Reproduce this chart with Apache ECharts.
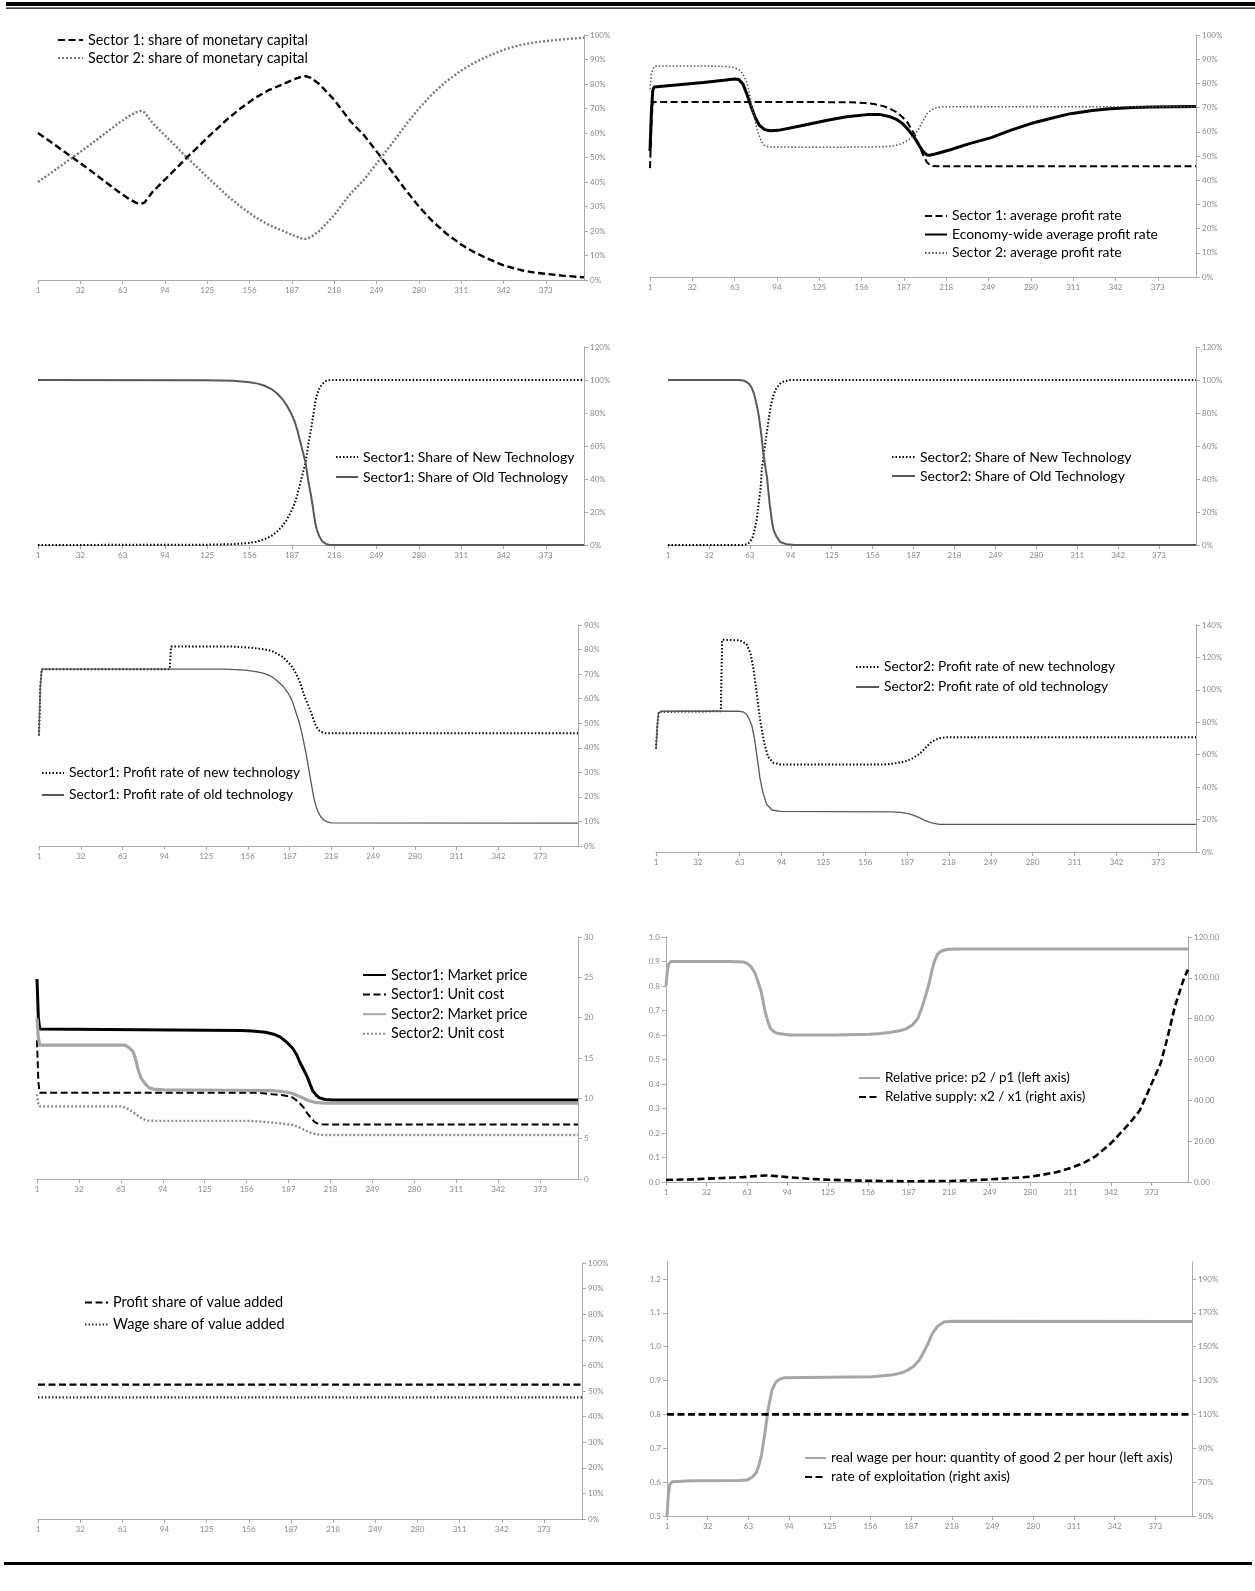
<!DOCTYPE html>
<html><head><meta charset="utf-8">
<script src="https://cdn.jsdelivr.net/npm/echarts@6/dist/echarts.min.js"></script>
<style>html,body{margin:0;padding:0;background:#fff}#c{width:1255px;height:1591px}</style>
</head><body><div id="c"></div>
<script>
// ---------- tick labels ----------
const periodTicks = [1,32,63,94,125,156,187,218,249,280,311,342,373];
const wageLeftTicks = [0.5,0.6,0.7,0.8,0.9,1.0,1.1,1.2];
const exploitRightTicks = [50,70,90,110,130,150,170,190];

// ---------- panel 1: shares of monetary capital (%) ----------
const s1MoneyShare = [[1,60],[12,55.7],[25,50.5],[38,45.3],[50,40.2],[60,36],[68,33],[73,31.5],[76,31],[79,31.6],[85,36],[94,41],[100,44.3],[110,50],[115,52.6],[125,58],[140,65.8],[150,70.3],[160,74.3],[170,77.5],[180,79.8],[188,81.8],[194,83],[197,83.2],[201,82.5],[207,80],[213,76.5],[218,73.5],[230,64.7],[240,59],[249,52.5],[260,44.5],[270,37],[280,30],[290,24],[300,19],[311,14.5],[320,11.5],[330,8.8],[342,6],[355,4],[365,3],[373,2.5],[385,1.8],[401,1.1]];
const s2MoneyShare = [[1,40],[12,44.3],[25,49.5],[38,54.7],[50,59.8],[60,64],[68,67],[73,68.5],[76,69],[79,68.4],[85,64],[94,59],[100,55.7],[110,50],[115,47.4],[125,42],[140,34.2],[150,29.7],[160,25.7],[170,22.5],[180,20.2],[188,18.2],[194,17],[197,16.8],[201,17.5],[207,20],[213,23.5],[218,26.5],[230,35.3],[240,41],[249,47.5],[260,55.5],[270,63],[280,70],[290,76],[300,81],[311,85.5],[320,88.5],[330,91.2],[342,94],[355,96],[365,97],[373,97.5],[385,98.2],[401,98.9]];

// ---------- panel 2: average profit rates (%) ----------
const s1AvgProfit = [[1,45],[2,62],[3,72.3],[60,72.3],[120,72.3],[148,72.2],[158,71.9],[165,71.5],[172,70.6],[177,69.5],[182,68],[186,66],[190,63.5],[195,58.7],[198,54.5],[201,50.5],[204,47.3],[207,45.9],[212,45.8],[401,45.8]];
const econAvgProfit = [[1,52],[2,68],[3,77],[4,78.5],[20,79.3],[40,80.4],[55,81.3],[63,81.8],[66,81.6],[69,79.8],[72,75.5],[75,70.5],[78,66],[81,62.8],[85,60.9],[89,60.4],[95,60.6],[110,62.3],[131,64.8],[145,66.2],[160,67.1],[169,67.2],[177,66.2],[182,65],[186,63.4],[190,61],[195,57.3],[198,54.5],[201,51.9],[204,50.4],[206,50.3],[210,50.8],[221,52.6],[235,55.1],[251,57.6],[265,60.6],[280,63.4],[295,65.6],[309,67.5],[325,68.8],[338,69.5],[355,70],[368,70.2],[385,70.4],[401,70.5]];
const s2AvgProfit = [[1,77.6],[2,84],[4,87],[6,87.2],[40,87.2],[57,87],[62,86.6],[66,85.8],[69,84],[72,80.4],[74,75.5],[76,69.5],[78,64.5],[80,60],[82,57],[84,54.6],[87,53.9],[90,53.7],[130,53.6],[172,53.8],[178,54.1],[183,54.6],[188,55.8],[192,57.3],[195,59],[198,61.4],[201,64.5],[204,67.5],[207,69],[210,69.8],[215,70.3],[220,70.4],[401,70.4]];

// ---------- panel 3: sector 1 technology shares (%) ----------
const s1NewTech = [[1,0],[124,0.2],[144,0.5],[156,1.3],[162,2.2],[167,3.5],[172,5.5],[176,8],[180,11.5],[183,15],[186,19.5],[189,25],[191,30.5],[193,37],[195,43.5],[197,50],[199,61],[201,70],[202,75],[204,86],[205,90],[207,94.6],[209,97.5],[210,98.6],[212,99.4],[214,99.8],[218,100],[401,100]];
const s1OldTech = [[1,100],[124,99.8],[144,99.5],[156,98.7],[162,97.8],[167,96.5],[172,94.5],[176,92],[180,88.5],[183,85],[186,80.5],[189,75],[191,69.5],[193,63],[195,56.5],[197,50],[199,39],[201,30],[202,25],[204,14],[205,10],[207,5.4],[209,2.5],[210,1.4],[212,0.6],[214,0.2],[218,0],[401,0]];

// ---------- panel 4: sector 2 technology shares (%) ----------
const s2NewTech = [[1,0],[58,0],[61,0.5],[63,1.8],[65,4.5],[66,7.4],[68,14],[69,21],[71,33],[72,45],[74,58],[76,69],[78,80],[79,85],[81,91],[83,95],[86,97.8],[88,99],[94,100],[401,100]];
const s2OldTech = [[1,100],[55,100],[59,99.5],[62,98],[64,96],[66,92],[67,89],[69,82],[70,77],[72,65],[73,57],[75,46],[76,41],[78,25],[80,13],[81,9],[83,5.4],[86,1.8],[91,0.4],[97,0],[401,0]];

// ---------- panel 5: sector 1 profit rates by technology (%) ----------
const s1ProfitNew = [[1,45],[2,65],[3,72],[98,72],[99,81.2],[145,81.2],[159,80.7],[168,80.1],[174,79.4],[182,77],[188,73.6],[191,71],[194,67.6],[196,64.5],[198,61],[201,57],[203,54.2],[206,49.5],[208,47.6],[210,46.5],[214,45.9],[401,45.9]];
const s1ProfitOld = [[1,45.1],[2,65],[3,72],[139,72],[154,71.6],[162,71],[168,70.3],[173,69.2],[177,67.6],[182,65.2],[186,62.2],[189,59],[191,55.6],[194,50.5],[196,46.2],[199,38.2],[202,28.8],[205,19.4],[207,15.5],[208,14],[210,12],[212,10.7],[215,9.8],[218,9.4],[401,9.3]];

// ---------- panel 6: sector 2 profit rates by technology (%) ----------
const s2ProfitNew = [[1,63.7],[2,78],[3,86.5],[49,86.8],[50,130.9],[63,130.5],[68,128.4],[71,122.4],[73,114],[75,102],[78,82],[81,67.8],[84,58.7],[88,55],[93,54],[170,54],[176,54.4],[182,55.2],[186,56],[190,57.3],[195,59.8],[199,62.7],[202,65.5],[205,67.8],[208,69.3],[211,70.2],[217,70.8],[401,70.8]];
const s2ProfitOld = [[1,63.7],[2,79],[3,86],[5,86.8],[63,86.8],[66,86.2],[68,85],[70,82],[72,78],[74,70],[75,63.7],[77,52],[78,45.5],[80,37.4],[83,29.3],[87,25.9],[93,25.1],[176,24.8],[182,24.4],[188,23.7],[192,22.6],[196,21.2],[200,19.5],[205,18],[211,17],[401,17]];

// ---------- panel 7: prices and unit costs ----------
const s1MarketPrice = [[1,24.8],[2,20],[3,18.6],[4,18.4],[152,18.4],[160,18.35],[170,18.2],[176,17.95],[181,17.6],[186,16.9],[190,16.2],[193,15.4],[195,14.6],[198,13.6],[201,12.6],[203,11.7],[205,10.9],[208,10.3],[210,10.05],[214,9.85],[220,9.8],[401,9.8]];
const s1UnitCost = [[1,17.2],[2,12],[3,10.7],[164,10.7],[170,10.6],[175,10.5],[182,10.4],[187,10.25],[190,10.1],[194,9.6],[198,8.9],[201,8.1],[204,7.5],[206,7.1],[208,6.9],[212,6.78],[215,6.75],[401,6.75]];
const s2MarketPrice = [[1,19.9],[2,17.5],[3,16.6],[66,16.6],[69,16.3],[72,15.8],[74,14.8],[76,13.4],[78,12.5],[81,11.8],[84,11.3],[87,11.15],[95,11.05],[140,11.0],[175,10.95],[182,10.85],[186,10.75],[190,10.6],[194,10.3],[198,10.0],[202,9.7],[207,9.5],[213,9.4],[401,9.4]];
const s2UnitCost = [[1,10.5],[2,9.3],[3,9.0],[63,9.0],[67,8.8],[70,8.5],[72,8.3],[76,7.8],[79,7.45],[83,7.25],[89,7.2],[158,7.2],[168,7.1],[175,7.0],[183,6.85],[190,6.7],[195,6.4],[199,6.05],[203,5.75],[207,5.55],[211,5.47],[220,5.45],[401,5.45]];

// ---------- panel 8: relative price (left) and relative supply (right) ----------
const relativePrice = [[1,0.80],[2,0.86],[3,0.89],[5,0.90],[50,0.90],[60,0.898],[63,0.893],[66,0.88],[69,0.855],[72,0.81],[74,0.775],[77,0.695],[79,0.655],[81,0.627],[84,0.612],[87,0.606],[96,0.60],[130,0.60],[157,0.603],[165,0.606],[172,0.61],[180,0.617],[185,0.625],[190,0.642],[194,0.668],[197,0.71],[200,0.761],[203,0.82],[205,0.869],[207,0.905],[209,0.929],[212,0.943],[217,0.95],[230,0.951],[401,0.951]];
const relativeSupply = [[1,1.0],[20,1.3],[40,1.8],[60,2.4],[70,2.9],[78,3.2],[86,2.9],[94,2.4],[110,1.6],[125,1.1],[156,0.6],[187,0.35],[218,0.5],[235,0.8],[249,1.3],[265,1.9],[280,2.6],[290,3.6],[300,4.8],[311,6.9],[320,9],[330,12.5],[342,19],[350,24.5],[356,28.6],[364,35],[373,48],[380,58],[385,70],[391,86],[395,94],[398,100],[401,104]];

// ---------- panel 9: functional income shares (%) ----------
const profitShare = [[1,52.5],[401,52.5]];
const wageShare = [[1,47.5],[401,47.5]];

// ---------- panel 10: real wage (left) and rate of exploitation (right, %) ----------
const realWage = [[1,0.5],[2,0.56],[3,0.592],[5,0.601],[20,0.604],[55,0.605],[62,0.606],[66,0.615],[69,0.628],[71,0.65],[73,0.68],[75,0.73],[76,0.757],[78,0.814],[81,0.872],[84,0.896],[87,0.904],[90,0.908],[157,0.911],[172,0.916],[180,0.923],[184,0.93],[189,0.942],[193,0.959],[196,0.98],[200,1.01],[203,1.038],[207,1.06],[212,1.073],[218,1.075],[401,1.074]];
const exploitationRate = [[1,110],[401,110]];

// ---------- styles ----------
const AX = '#ababab', LBL = '#8a8a8a', FONT = 'Lato, "Open Sans", sans-serif';
const DASH = [7,3.5], DOT = [2,2], DOTF = [1.5,2];
const pct = v => v + '%';

const panels = [
  {box:[38,35,546,245], y:[{pos:'right',min:0,max:100,interval:10,fmt:pct}],
   series:[['Sector 1: share of monetary capital',s1MoneyShare,'#000',2.4,DASH],
           ['Sector 2: share of monetary capital',s2MoneyShare,'#7a7a7a',2.4,DOT]],
   legend:[57,40,25,18,14.4]},
  {box:[650,35,546,242], y:[{pos:'right',min:0,max:100,interval:10,fmt:pct}],
   series:[['Sector 1: average profit rate',s1AvgProfit,'#000',2,DASH],
           ['Economy-wide average profit rate',econAvgProfit,'#000',3,'solid'],
           ['Sector 2: average profit rate',s2AvgProfit,'#555',1.5,DOTF]],
   legend:[924,216,22,18.5,13.9]},
  {box:[38,347,546,198], y:[{pos:'right',min:0,max:120,interval:20,fmt:pct}],
   series:[['Sector1: Share of New Technology',s1NewTech,'#000',2,DOTF],
           ['Sector1: Share of Old Technology',s1OldTech,'#595959',2,'solid']],
   legend:[335,457,22,20,14]},
  {box:[668,347,528,198], y:[{pos:'right',min:0,max:120,interval:20,fmt:pct}],
   series:[['Sector2: Share of New Technology',s2NewTech,'#000',2,DOTF],
           ['Sector2: Share of Old Technology',s2OldTech,'#595959',2,'solid']],
   legend:[891,457,23,19,14]},
  {box:[39,625,539,221], y:[{pos:'right',min:0,max:90,interval:10,fmt:pct}],
   series:[['Sector1: Profit rate of new technology',s1ProfitNew,'#000',2,DOTF],
           ['Sector1: Profit rate of old technology',s1ProfitOld,'#595959',1.3,'solid']],
   legend:[41,773,22,22,13.8]},
  {box:[656,625,540,227], y:[{pos:'right',min:0,max:140,interval:20,fmt:pct}],
   series:[['Sector2: Profit rate of new technology',s2ProfitNew,'#000',2,DOTF],
           ['Sector2: Profit rate of old technology',s2ProfitOld,'#595959',1.3,'solid']],
   legend:[855,667,23,20,13.8]},
  {box:[37,937,541,242], y:[{pos:'right',min:0,max:30,interval:5,fmt:v=>String(v)}],
   series:[['Sector1: Market price',s1MarketPrice,'#000',3,'solid'],
           ['Sector1: Unit cost',s1UnitCost,'#000',2,DASH],
           ['Sector2: Market price',s2MarketPrice,'#a6a6a6',3.2,'solid'],
           ['Sector2: Unit cost',s2UnitCost,'#8c8c8c',2.4,DOT]],
   legend:[362,975,23,19.6,14.4]},
  {box:[666,937,522,245], y:[{pos:'left',min:0,max:1,interval:0.1,fmt:v=>v.toFixed(1)},
                             {pos:'right',min:0,max:120,interval:20,fmt:v=>v.toFixed(2)}],
   series:[['Relative price: p2 / p1 (left axis)',relativePrice,'#a6a6a6',3,'solid',0],
           ['Relative supply: x2 / x1 (right axis)',relativeSupply,'#000',2.6,DASH,1]],
   legend:[858,1078,21,19,13.4]},
  {box:[38,1263,544,256], y:[{pos:'right',min:0,max:100,interval:10,fmt:pct}],
   series:[['Profit share of value added',profitShare,'#000',2.4,DASH],
           ['Wage share of value added',wageShare,'#333',2.2,DOTF]],
   legend:[84,1302,23,21,14.5]},
  {box:[667,1262,525,254], y:[{pos:'left',min:0.5,max:1.25,custom:wageLeftTicks,fmt:v=>v.toFixed(1)},
                              {pos:'right',min:50,max:200,custom:exploitRightTicks,fmt:pct}],
   series:[['real wage per hour: quantity of good 2 per hour (left axis)',realWage,'#a6a6a6',3,'solid',0],
           ['rate of exploitation (right axis)',exploitationRate,'#000',2.6,DASH,1]],
   legend:[804,1458,21,19,13.7]}
];

const grid=[], xAxis=[], yAxis=[], series=[], legend=[];
panels.forEach((p,i)=>{
  const [l,t,w,h] = p.box;
  grid.push({left:l, top:t, width:w, height:h, containLabel:false});
  xAxis.push({type:'value', gridIndex:i, min:1, max:401,
    axisLine:{show:true, onZero:false, lineStyle:{color:AX,width:1}},
    axisTick:{show:true, length:4, customValues:periodTicks, lineStyle:{color:AX}},
    axisLabel:{customValues:periodTicks, fontSize:8, color:LBL, margin:6, fontFamily:FONT},
    splitLine:{show:false}});
  const yIdx = [];
  p.y.forEach(a=>{
    yIdx.push(yAxis.length);
    const ax = {type:'value', gridIndex:i, position:a.pos, min:a.min, max:a.max,
      axisLine:{show:true, onZero:false, lineStyle:{color:AX,width:1}},
      axisTick:{show:true, length:4, lineStyle:{color:AX}},
      axisLabel:{formatter:a.fmt, fontSize:8, color:LBL, margin:6, fontFamily:FONT},
      splitLine:{show:false}};
    if (a.custom) { ax.axisTick.customValues = a.custom; ax.axisLabel.customValues = a.custom; }
    else ax.interval = a.interval;
    yAxis.push(ax);
  });
  const names=[];
  p.series.forEach(s=>{
    const [name,data,color,width,type,yi] = s;
    names.push(name);
    series.push({type:'line', name, data, xAxisIndex:i, yAxisIndex:yIdx[yi||0],
      symbol:'none', showSymbol:false, smooth:false, silent:true,
      lineStyle:{color, width, type, cap:'butt'}, itemStyle:{color}, emphasis:{disabled:true}});
  });
  // legend: [lineStartX, firstRowCenterY, sampleWidth, rowSpacing, fontSize]
  const [ll,rowY,iw,rowSp,fs] = p.legend;
  const lh = 14;
  legend.push({data:names, orient:'vertical', left:ll, top:rowY - lh/2, itemWidth:iw, itemHeight:lh,
    itemGap:rowSp - lh, padding:0, selectedMode:false,
    itemStyle:{opacity:0, borderWidth:0},
    textStyle:{fontSize:fs, color:'#000', fontFamily:FONT, lineHeight:lh}});
});

const chart = echarts.init(document.getElementById('c'), null, {renderer:'canvas'});
chart.setOption({
  backgroundColor:'#fff', animation:false,
  grid, xAxis, yAxis, series, legend,
  graphic:[
    {type:'rect', shape:{x:6,y:2,width:1249,height:4}, style:{fill:'#000'}},
    {type:'rect', shape:{x:6,y:7.5,width:1249,height:1.3}, style:{fill:'#000'}},
    {type:'rect', shape:{x:4,y:1562,width:1248,height:3}, style:{fill:'#000'}}
  ]
});
</script></body></html>
